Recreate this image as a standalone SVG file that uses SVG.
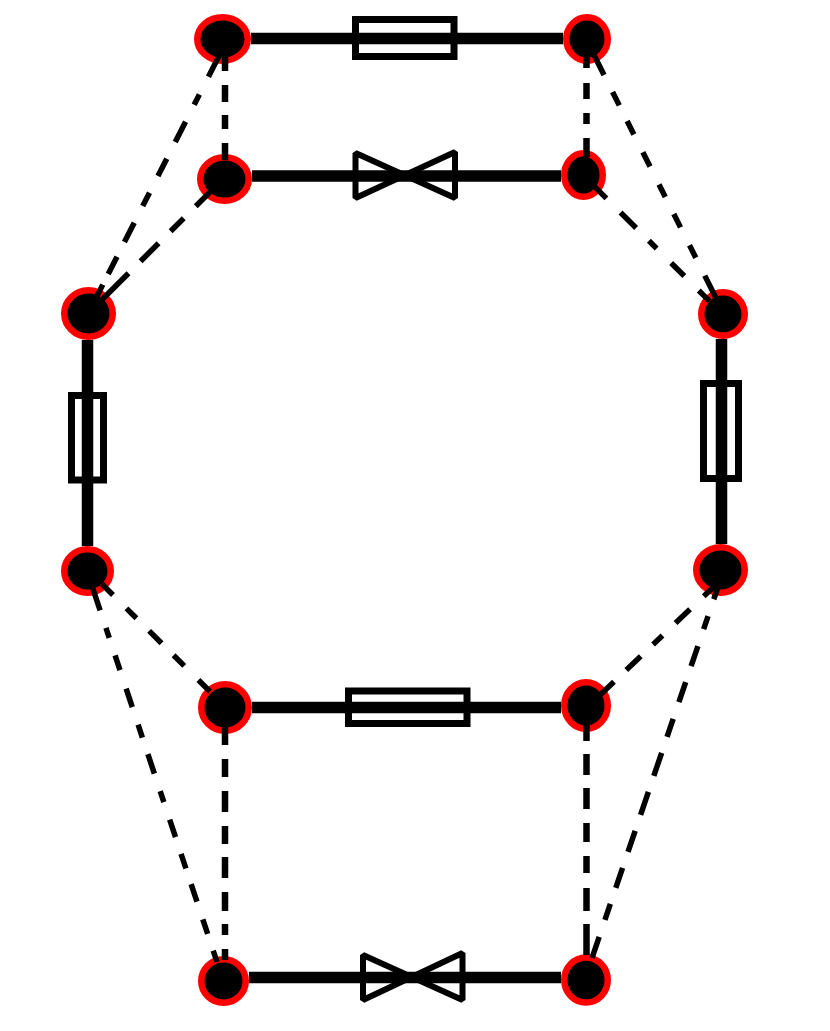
<svg xmlns="http://www.w3.org/2000/svg" width="830" height="1031" viewBox="0 0 830 1031">
<style>
.n{fill:#000;stroke:#f00;stroke-width:6.5}
.w{stroke:#000;stroke-width:11.500;fill:none}
.d{stroke:#000;stroke-width:6.500;fill:none}
.g{stroke:#000;stroke-width:5.500;fill:none}
.s{stroke:#000;stroke-width:6;fill:none;stroke-linejoin:bevel}
.f{stroke:#000;stroke-width:7;fill:none}
</style>
<rect width="830" height="1031" fill="#fff"/>
<g id="n1"><ellipse class="n" cx="222.500" cy="39" rx="25.250" ry="21.750"/></g>
<g id="n2"><ellipse class="n" cx="587" cy="39" rx="20.750" ry="21.750"/></g>
<g id="n3"><ellipse class="n" cx="224.500" cy="179" rx="24.250" ry="21.750"/></g>
<g id="n4"><ellipse class="n" cx="583.500" cy="175" rx="19.250" ry="21.750"/></g>
<g id="n5"><ellipse class="n" cx="88.500" cy="313.500" rx="24.250" ry="23.250"/></g>
<g id="n6"><ellipse class="n" cx="723" cy="314" rx="21.750" ry="21.750"/></g>
<g id="n7"><ellipse class="n" cx="87.500" cy="571" rx="23.250" ry="21.750"/></g>
<g id="n8"><ellipse class="n" cx="720.500" cy="570" rx="24.250" ry="22.750"/></g>
<g id="n9"><ellipse class="n" cx="225" cy="707.500" rx="23.750" ry="23.250"/></g>
<g id="n10"><ellipse class="n" cx="586" cy="705.500" rx="21.750" ry="23.250"/></g>
<g id="n11"><ellipse class="n" cx="223.500" cy="981" rx="22.250" ry="21.750"/></g>
<g id="n12"><ellipse class="n" cx="586" cy="980" rx="21.750" ry="22.500"/></g>
<g id="fuse-top"><rect class="f" x="355.500" y="19.500" width="98.500" height="37"/></g>
<g id="valve-top"><path class="s" d="M355.500 153L455 198V152L355.500 198Z"/></g>
<g id="fuse-left"><rect class="f" x="71.500" y="395.500" width="32" height="84.500"/></g>
<g id="fuse-right"><rect class="f" x="703.500" y="383.500" width="35" height="95"/></g>
<g id="fuse-mid"><rect class="f" x="348.500" y="691" width="118.500" height="32.500"/></g>
<g id="valve-bottom"><path class="s" d="M363 955L462.500 1000V953L363 1000Z"/></g>
<g id="connectors">
<path class="w" d="M251 38.500H563"/>
<path class="w" d="M252 176H561"/>
<path class="w" d="M87.500 340V546"/>
<path class="w" d="M721.500 339V544"/>
<path class="w" d="M252 707.500H561"/>
<path class="w" d="M249 977.500H561"/>
<path class="d" d="M225 56V160" stroke-dasharray="15 14 17 13 14 14 17"/>
<path class="g" d="M220 54L96.500 297" stroke-dasharray="25.500 20 11.500 19 22.800 18.700 19.400 18.700 15 18.700 21.600 16.400 19.400 12 14"/>
<path class="g" d="M211 191L101.700 300" stroke-dasharray="21.500 17 18.500 17 25.500 17 37.500"/>
<path class="d" d="M586.500 55V157" stroke-dasharray="13 15 16 14 11 14 19"/>
<path class="g" d="M593.500 54L716 298" stroke-dasharray="23.500 19 15 17.500 15 20 16 20 14 19 15 20 14 20 27.500"/>
<path class="g" d="M594 186L710 301.700" stroke-dasharray="17.500 20 22 18 11 20.500 18.500 20.500 15"/>
<path class="g" d="M102 584L210 691.500" stroke-dasharray="15.500 19 14 18 17.500 17 15 20 16.500"/>
<path class="g" d="M92 586L217 962" stroke-dasharray="25.700 18.500 10.500 18.500 15.500 19.500 19.500 18.500 13.500 17.500 20.500 18.500 11.500 18.500 18.500 17.500 15.500 16.500 18.500 18.500 15.500 17.500 15"/>
<path class="d" d="M225 722V960" stroke-dasharray="23 14 18 14 21 14 18 13 21 14 19 13 11 14 11"/>
<path class="d" d="M586.500 722V955" stroke-dasharray="19 13 21 13 21 14 19 14 17 15 23 13 31"/>
<path class="g" d="M715 585.500L600 695" stroke-dasharray="15.500 19 20 18 13 17 20 17 18.500"/>
<path class="g" d="M718.300 586L592 958" stroke-dasharray="14 17.800 13.800 17.800 21.200 16.800 21.200 17.800 19 16.800 24.400 16.800 24.400 16.800 22.300 16.800 21.200 16.800 17 17.800 22.200"/>
</g>
</svg>
